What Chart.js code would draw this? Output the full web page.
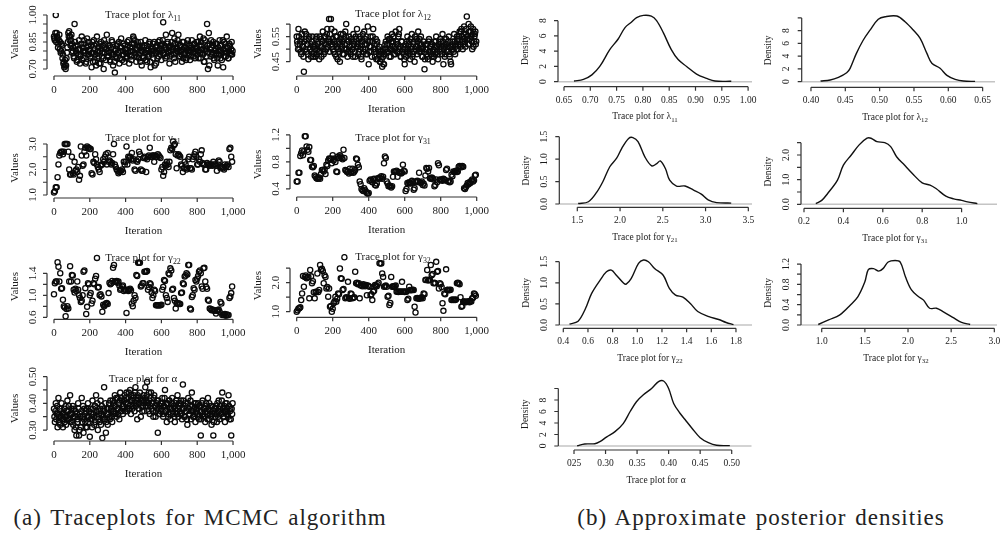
<!DOCTYPE html>
<html>
<head>
<meta charset="utf-8">
<script src="https://cdn.jsdelivr.net/npm/chart.js@4.4.0/dist/chart.umd.min.js"></script>
<style>
html, body { margin: 0; padding: 0; background: #fff; }
#wrap { position: relative; width: 1001px; height: 534px; overflow: hidden; }
#wrap canvas { position: absolute; left: 0; top: 0; }
.cap { position: absolute; font-family: "Liberation Serif", serif; font-size: 23px; letter-spacing: 1px; word-spacing: 2px; color: #222; white-space: nowrap; transform: translateX(-50%); }
</style>
</head>
<body>
<div id="wrap">
  <div class="cap" style="left:200px;top:505px">(a) Traceplots for MCMC algorithm</div>
  <div class="cap" style="left:761px;top:505px">(b) Approximate posterior densities</div>
</div>
<script>
// ---- trace values: series A at iterations 0, 5, ..., 995; series B at 2.5, 7.5, ... ----
const iterStep = 5;

const traceLambda11 = [
  0.88,0.86,1.00,0.90,0.87,0.84,0.89,0.85,0.80,0.83,0.78,0.74,0.72,0.70,0.76,0.82,0.90,0.91,0.88,0.86,
  0.84,0.80,0.77,0.95,0.83,0.79,0.75,0.81,0.86,0.73,0.78,0.88,0.82,0.76,0.84,0.80,0.74,0.87,0.83,0.78,
  0.81,0.76,0.71,0.85,0.79,0.83,0.74,0.72,0.88,0.80,0.77,0.84,0.73,0.81,0.79,0.76,0.86,0.82,0.75,0.89,
  0.80,0.77,0.83,0.74,0.79,0.85,0.72,0.78,0.68,0.81,0.76,0.84,0.79,0.73,0.82,0.87,0.75,0.80,0.78,0.83,
  0.76,0.81,0.85,0.79,0.73,0.82,0.77,0.84,0.80,0.87,0.86,0.78,0.74,0.81,0.83,0.76,0.79,0.85,0.72,0.80,
  0.77,0.83,0.86,0.79,0.74,0.81,0.78,0.84,0.71,0.80,0.82,0.76,0.85,0.79,0.73,0.83,0.80,0.77,0.86,0.81,
  0.75,0.84,0.96,0.79,0.82,0.89,0.77,0.85,0.80,0.73,0.83,0.78,0.90,0.81,0.76,0.84,0.79,0.82,0.86,0.89,
  0.80,0.77,0.83,0.74,0.81,0.85,0.78,0.82,0.76,0.84,0.79,0.83,0.75,0.80,0.86,0.81,0.77,0.84,0.79,0.82,
  0.78,0.85,0.80,0.88,0.76,0.83,0.79,0.87,0.74,0.82,0.81,0.95,0.70,0.90,0.84,0.77,0.82,0.79,0.85,0.75,
  0.81,0.78,0.84,0.72,0.80,0.86,0.76,0.83,0.79,0.71,0.85,0.80,0.77,0.88,0.82,0.76,0.84,0.79,0.81,0.78
];
const traceLambda11B = [
  0.87,0.90,0.85,0.88,0.82,0.86,0.81,0.79,0.84,0.76,0.73,0.71,0.75,0.72,0.79,0.85,0.88,0.86,0.83,0.89,
  0.79,0.82,0.76,0.85,0.80,0.74,0.83,0.78,0.81,0.77,0.84,0.75,0.80,0.86,0.79,0.73,0.82,0.78,0.85,0.80,
  0.77,0.83,0.79,0.74,0.86,0.81,0.78,0.84,0.76,0.82,0.73,0.80,0.85,0.77,0.83,0.70,0.79,0.84,0.81,0.77,
  0.83,0.79,0.75,0.82,0.86,0.78,0.81,0.74,0.80,0.77,0.83,0.79,0.85,0.76,0.80,0.82,0.78,0.84,0.74,0.81,
  0.79,0.77,0.83,0.86,0.78,0.80,0.75,0.82,0.88,0.84,0.79,0.81,0.77,0.85,0.78,0.82,0.74,0.80,0.83,0.76,
  0.82,0.79,0.75,0.83,0.80,0.77,0.85,0.74,0.81,0.78,0.84,0.80,0.72,0.82,0.79,0.76,0.85,0.81,0.78,0.83,
  0.80,0.86,0.78,0.83,0.76,0.81,0.84,0.79,0.82,0.77,0.80,0.85,0.82,0.78,0.87,0.74,0.81,0.80,0.84,0.77,
  0.83,0.80,0.78,0.85,0.76,0.82,0.79,0.75,0.81,0.86,0.78,0.80,0.83,0.77,0.82,0.79,0.84,0.76,0.81,0.85,
  0.80,0.76,0.83,0.79,0.85,0.81,0.78,0.74,0.86,0.80,0.77,0.83,0.79,0.72,0.81,0.86,0.78,0.83,0.76,0.80,
  0.84,0.79,0.76,0.82,0.78,0.83,0.80,0.75,0.86,0.81,0.77,0.84,0.79,0.82,0.76,0.80,0.83,0.78,0.85,0.80
];

const traceLambda12 = [
  0.55,0.52,0.58,0.50,0.53,0.48,0.56,0.51,0.41,0.57,0.54,0.49,0.52,0.46,0.55,0.50,0.47,0.53,0.51,0.48,
  0.52,0.47,0.55,0.50,0.53,0.46,0.49,0.54,0.51,0.57,0.48,0.52,0.55,0.50,0.58,0.53,0.62,0.56,0.62,0.51,
  0.54,0.49,0.57,0.52,0.47,0.55,0.50,0.53,0.45,0.56,0.51,0.48,0.54,0.50,0.57,0.60,0.52,0.49,0.55,0.51,
  0.48,0.53,0.50,0.56,0.52,0.47,0.54,0.58,0.51,0.49,0.55,0.52,0.46,0.53,0.50,0.57,0.54,0.48,0.52,0.59,
  0.44,0.51,0.55,0.49,0.53,0.58,0.50,0.47,0.54,0.52,0.46,0.49,0.51,0.45,0.48,0.43,0.47,0.44,0.50,0.53,
  0.49,0.55,0.52,0.47,0.54,0.50,0.56,0.53,0.48,0.51,0.57,0.52,0.49,0.55,0.58,0.51,0.47,0.53,0.50,0.48,
  0.44,0.52,0.49,0.55,0.50,0.53,0.46,0.51,0.56,0.48,0.53,0.45,0.50,0.54,0.51,0.57,0.49,0.52,0.55,0.50,
  0.47,0.53,0.42,0.50,0.48,0.52,0.46,0.54,0.49,0.51,0.47,0.45,0.50,0.53,0.48,0.55,0.51,0.46,0.52,0.49,
  0.53,0.50,0.56,0.44,0.51,0.48,0.54,0.52,0.49,0.55,0.47,0.45,0.51,0.53,0.50,0.56,0.48,0.52,0.55,0.50,
  0.54,0.57,0.51,0.58,0.55,0.52,0.59,0.53,0.56,0.63,0.54,0.60,0.52,0.57,0.55,0.50,0.58,0.53,0.56,0.52
];
const traceLambda12B = [
  0.53,0.50,0.55,0.52,0.49,0.54,0.51,0.47,0.53,0.50,0.56,0.52,0.48,0.54,0.50,0.52,0.49,0.55,0.47,0.51,
  0.50,0.54,0.48,0.52,0.49,0.55,0.51,0.47,0.53,0.50,0.55,0.49,0.52,0.56,0.51,0.54,0.49,0.53,0.58,0.52,
  0.50,0.53,0.48,0.55,0.51,0.46,0.52,0.49,0.54,0.50,0.53,0.56,0.48,0.52,0.55,0.50,0.47,0.53,0.51,0.49,
  0.54,0.50,0.47,0.53,0.49,0.55,0.51,0.52,0.48,0.54,0.50,0.47,0.53,0.56,0.49,0.52,0.50,0.55,0.48,0.53,
  0.49,0.53,0.51,0.47,0.55,0.50,0.52,0.49,0.46,0.53,0.50,0.48,0.45,0.49,0.46,0.50,0.44,0.48,0.52,0.50,
  0.52,0.49,0.54,0.50,0.47,0.53,0.51,0.55,0.50,0.48,0.53,0.49,0.52,0.56,0.50,0.47,0.53,0.49,0.51,0.46,
  0.50,0.47,0.53,0.49,0.52,0.48,0.54,0.50,0.47,0.52,0.49,0.55,0.51,0.48,0.53,0.50,0.54,0.49,0.52,0.47,
  0.51,0.49,0.46,0.52,0.50,0.47,0.53,0.49,0.51,0.48,0.52,0.49,0.47,0.51,0.53,0.49,0.48,0.52,0.50,0.54,
  0.51,0.48,0.53,0.50,0.47,0.52,0.49,0.51,0.53,0.48,0.51,0.44,0.50,0.52,0.49,0.53,0.51,0.50,0.54,0.52,
  0.55,0.52,0.57,0.53,0.50,0.56,0.54,0.51,0.58,0.55,0.52,0.57,0.54,0.59,0.53,0.56,0.51,0.55,0.57,0.53
];

const traceGamma21 = [
  1.10,1.15,1.30,1.30,1.70,2.20,2.55,2.65,2.70,2.70,2.60,2.70,3.00,3.00,3.00,3.00,2.70,2.00,1.80,1.80,
  2.50,1.85,1.80,2.30,1.95,2.00,1.90,2.10,1.60,1.75,2.90,2.55,2.15,2.20,2.70,2.85,2.55,2.90,2.85,2.85,
  2.80,2.80,1.85,1.80,2.30,2.25,2.60,2.40,2.20,2.10,2.00,1.90,2.15,2.20,2.20,2.40,2.30,2.50,2.60,2.20,
  2.65,2.30,2.35,2.30,2.20,2.25,2.60,3.00,2.20,2.10,2.00,1.95,1.85,1.90,1.95,1.95,2.00,1.90,2.30,2.20,
  2.30,2.90,2.20,2.50,2.45,2.50,2.40,2.65,2.35,2.40,2.00,1.95,2.35,2.30,2.40,2.70,2.60,2.00,1.95,1.95,
  2.45,2.50,2.45,1.90,2.40,2.50,2.55,2.85,2.50,2.50,2.55,2.55,2.30,2.55,2.50,2.50,2.60,2.55,2.50,2.45,
  2.00,2.10,1.75,1.90,2.20,2.15,2.30,2.20,2.10,2.30,2.75,2.85,2.80,3.10,2.95,3.00,2.60,2.05,2.55,2.60,
  2.55,2.50,2.20,2.15,1.90,2.05,2.30,2.20,2.00,2.05,2.40,2.50,2.05,2.05,2.00,2.40,2.50,2.60,2.70,2.50,
  2.20,2.20,2.40,2.30,2.60,2.75,2.25,2.20,2.20,2.00,2.00,2.25,2.20,2.20,2.15,2.20,2.20,2.15,2.30,2.20,
  2.20,2.15,1.95,2.20,2.35,2.30,2.05,2.10,2.10,2.05,2.00,2.20,2.10,2.15,2.20,2.10,2.80,2.85,2.50,2.30
];

const traceGamma31 = [
  0.51,0.51,0.64,0.64,0.89,0.93,0.97,0.90,0.96,1.18,1.18,1.03,0.98,0.95,1.02,0.83,0.83,0.73,0.72,0.74,
  0.60,0.58,0.56,0.55,0.56,0.57,0.55,0.62,0.68,0.68,0.66,0.69,0.62,0.76,0.74,0.82,0.85,0.84,0.85,0.78,
  0.90,0.82,0.85,0.80,0.66,0.65,0.88,0.86,0.90,0.88,0.86,0.84,0.98,0.86,0.68,0.67,0.65,0.66,0.63,0.70,
  0.64,0.65,0.70,0.64,0.66,0.68,0.85,0.84,0.76,0.72,0.51,0.47,0.40,0.38,0.37,0.41,0.38,0.36,0.34,0.33,
  0.34,0.52,0.54,0.53,0.50,0.54,0.55,0.46,0.45,0.48,0.56,0.55,0.57,0.56,0.59,0.55,0.58,0.78,0.88,0.86,
  0.51,0.48,0.44,0.45,0.44,0.42,0.44,0.58,0.66,0.65,0.66,0.67,0.58,0.65,0.64,0.64,0.63,0.64,0.76,0.67,
  0.66,0.37,0.40,0.49,0.48,0.50,0.49,0.48,0.52,0.50,0.39,0.41,0.51,0.50,0.52,0.51,0.64,0.50,0.49,0.51,
  0.46,0.48,0.45,0.60,0.71,0.70,0.66,0.71,0.56,0.55,0.57,0.56,0.54,0.44,0.46,0.54,0.50,0.78,0.75,0.54,
  0.53,0.54,0.52,0.55,0.54,0.53,0.68,0.70,0.51,0.52,0.50,0.51,0.61,0.59,0.66,0.65,0.66,0.67,0.65,0.66,
  0.73,0.74,0.73,0.72,0.74,0.73,0.41,0.40,0.43,0.45,0.49,0.47,0.50,0.49,0.52,0.54,0.51,0.53,0.60,0.61
];

const traceGamma22 = [
  1.02,1.22,1.25,1.25,1.60,1.52,1.25,1.40,1.12,1.13,0.92,0.80,0.78,0.62,0.75,0.80,0.76,1.25,1.53,1.25,
  1.37,1.36,1.10,1.05,1.12,1.08,1.25,1.10,1.00,0.95,0.88,0.90,1.00,1.43,1.45,1.13,0.66,0.79,1.22,1.20,
  1.00,1.04,0.85,0.90,1.22,1.20,1.30,1.35,1.68,1.14,1.15,1.00,1.02,0.98,0.70,0.83,0.80,0.83,0.85,0.86,
  0.84,1.04,1.23,1.20,1.22,1.26,1.50,1.55,1.25,1.24,1.26,1.23,1.25,1.18,1.10,1.12,1.16,1.18,1.08,1.10,
  1.10,0.68,1.10,1.08,1.10,1.12,1.09,0.85,0.80,0.90,1.00,0.95,1.37,1.35,1.59,1.59,1.59,1.16,1.18,1.22,
  1.22,1.43,1.43,1.43,1.44,1.10,1.15,1.22,1.20,1.05,0.95,1.00,1.10,1.08,0.82,0.82,0.82,0.82,0.82,0.82,
  0.83,1.10,1.15,1.28,1.26,1.00,0.95,0.88,1.40,1.38,1.49,1.45,1.10,1.12,0.95,0.90,0.76,0.85,0.86,0.84,
  0.85,0.84,1.04,1.05,1.22,1.20,1.34,1.36,1.40,1.38,1.55,1.55,0.76,0.74,0.97,1.00,1.13,1.10,1.28,1.25,
  1.30,1.35,1.43,1.45,1.40,1.16,1.12,1.49,1.50,1.25,1.15,1.12,0.92,0.90,0.76,0.75,0.73,0.74,0.73,0.72,
  0.73,0.67,0.72,0.73,0.74,0.70,0.88,0.85,0.64,0.65,0.64,0.66,0.63,0.65,0.64,0.64,0.95,0.98,1.04,1.16
];

const traceGamma32 = [
  1.00,1.05,1.11,1.12,1.15,1.40,1.63,2.23,1.86,2.20,2.25,2.15,2.18,2.20,1.46,2.44,2.22,1.98,2.05,1.67,
  1.46,1.67,1.70,2.32,1.68,1.75,2.61,2.45,2.48,2.40,1.98,2.26,2.20,1.80,1.85,1.52,1.80,1.17,1.20,1.00,
  1.10,1.29,1.35,1.52,1.34,1.45,1.63,1.60,2.49,2.15,2.14,1.75,1.78,2.88,1.46,1.50,1.48,2.03,1.46,1.45,
  1.63,1.60,1.46,1.48,1.50,2.38,1.98,2.00,1.95,1.98,1.46,1.90,1.92,1.88,1.95,1.90,1.88,1.92,1.57,1.90,
  1.88,1.86,1.57,1.60,1.40,1.69,1.72,1.92,1.90,1.88,1.95,2.00,2.67,2.67,2.66,2.32,2.20,1.86,1.88,1.90,
  1.86,1.52,1.55,1.23,1.30,2.20,1.86,1.88,1.85,1.87,1.90,1.69,1.70,1.68,1.69,1.70,1.69,2.03,1.70,1.69,
  1.68,1.70,1.69,1.40,1.45,1.86,1.75,1.74,1.75,1.76,1.75,1.17,0.97,1.46,1.47,1.46,1.45,1.47,1.46,1.50,
  1.46,1.63,1.60,2.09,2.10,2.44,2.08,2.10,2.09,2.61,2.26,2.30,1.98,2.00,1.98,2.72,2.38,2.40,1.80,1.98,
  1.95,1.85,1.29,1.03,1.63,1.60,2.46,1.75,1.76,1.74,1.75,1.76,1.40,1.42,1.40,1.41,1.40,1.42,1.98,2.00,
  1.98,1.95,1.50,1.17,1.20,1.34,1.35,1.34,1.33,1.34,1.35,1.34,1.33,1.38,1.35,1.46,1.48,1.63,1.60,1.55
];

const traceAlpha = [
  0.38,0.33,0.40,0.36,0.31,0.42,0.35,0.32,0.37,0.34,0.31,0.36,0.33,0.39,0.35,0.41,0.37,0.34,0.43,0.36,
  0.33,0.39,0.35,0.30,0.37,0.28,0.34,0.40,0.28,0.36,0.31,0.42,0.35,0.29,0.38,0.33,0.37,0.31,0.40,0.35,
  0.275,0.38,0.34,0.41,0.36,0.32,0.39,0.43,0.35,0.30,0.37,0.33,0.41,0.36,0.27,0.38,0.46,0.34,0.29,0.36,
  0.32,0.38,0.35,0.41,0.37,0.33,0.40,0.36,0.43,0.39,0.35,0.42,0.38,0.34,0.44,0.37,0.41,0.36,0.39,0.43,
  0.40,0.44,0.37,0.42,0.38,0.45,0.36,0.41,0.39,0.43,0.37,0.46,0.40,0.34,0.42,0.38,0.44,0.35,0.41,0.39,
  0.43,0.37,0.46,0.41,0.48,0.39,0.44,0.36,0.42,0.38,0.40,0.35,0.43,0.39,0.37,0.41,0.29,0.38,0.36,0.40,
  0.38,0.42,0.35,0.39,0.45,0.37,0.33,0.40,0.36,0.41,0.34,0.38,0.42,0.36,0.39,0.33,0.40,0.37,0.43,0.35,
  0.39,0.36,0.41,0.34,0.47,0.38,0.35,0.40,0.37,0.32,0.42,0.36,0.39,0.34,0.44,0.37,0.35,0.40,0.33,0.38,
  0.36,0.40,0.34,0.39,0.28,0.37,0.41,0.35,0.38,0.33,0.40,0.36,0.42,0.34,0.37,0.39,0.32,0.36,0.28,0.38,
  0.35,0.39,0.33,0.37,0.41,0.34,0.38,0.36,0.44,0.35,0.39,0.33,0.37,0.40,0.36,0.43,0.34,0.38,0.28,0.36
];
const traceAlphaB = [
  0.35,0.37,0.34,0.39,0.36,0.33,0.38,0.35,0.40,0.36,0.34,0.38,0.35,0.32,0.37,0.34,0.39,0.36,0.33,0.38,
  0.36,0.32,0.38,0.35,0.31,0.36,0.33,0.38,0.30,0.35,0.37,0.33,0.39,0.34,0.36,0.31,0.38,0.35,0.33,0.37,
  0.34,0.36,0.31,0.38,0.35,0.39,0.33,0.37,0.40,0.34,0.36,0.38,0.32,0.39,0.35,0.34,0.37,0.40,0.33,0.38,
  0.36,0.40,0.34,0.38,0.35,0.41,0.37,0.39,0.36,0.42,0.38,0.36,0.40,0.41,0.37,0.42,0.39,0.38,0.41,0.37,
  0.42,0.38,0.40,0.44,0.39,0.41,0.43,0.38,0.42,0.40,0.44,0.39,0.41,0.43,0.38,0.40,0.42,0.39,0.37,0.41,
  0.40,0.42,0.39,0.43,0.40,0.37,0.41,0.39,0.44,0.40,0.37,0.42,0.39,0.35,0.40,0.38,0.41,0.36,0.39,0.37,
  0.40,0.36,0.39,0.42,0.37,0.40,0.38,0.35,0.41,0.38,0.36,0.40,0.37,0.39,0.35,0.38,0.41,0.36,0.38,0.40,
  0.37,0.40,0.36,0.38,0.41,0.35,0.39,0.37,0.34,0.40,0.38,0.36,0.41,0.37,0.39,0.35,0.38,0.36,0.40,0.37,
  0.38,0.35,0.39,0.37,0.34,0.40,0.36,0.38,0.35,0.39,0.37,0.34,0.38,0.40,0.36,0.35,0.39,0.37,0.33,0.36,
  0.38,0.36,0.40,0.35,0.37,0.39,0.36,0.41,0.38,0.35,0.37,0.40,0.36,0.38,0.35,0.39,0.37,0.34,0.38,0.40
];

// ---- posterior density curves (x, density) ----
const densLambda11X = [0.669,0.687,0.703,0.718,0.737,0.753,0.766,0.778,0.788,0.801,0.816,0.826,0.839,0.854,0.867,0.883,0.902,0.921,0.937,0.968];
const densLambda11Y = [0.09,0.3,0.9,2.0,4.2,5.6,7.1,7.8,8.4,8.7,8.6,8.0,6.4,4.2,2.9,2.0,1.0,0.44,0.09,0.05];

const densLambda12X = [0.414,0.428,0.440,0.452,0.457,0.466,0.476,0.486,0.498,0.508,0.525,0.537,0.549,0.559,0.569,0.576,0.588,0.598,0.610,0.622,0.639];
const densLambda12Y = [0.1,0.26,0.68,1.4,2.1,4.4,6.5,8.1,9.8,10.2,10.3,9.4,8.1,6.8,4.4,2.9,2.1,1.0,0.37,0.1,0.05];

const densGamma21X = [1.51,1.63,1.73,1.80,1.88,1.96,2.02,2.10,2.15,2.21,2.29,2.37,2.43,2.47,2.53,2.58,2.66,2.76,2.86,2.95,3.03,3.13,3.30];
const densGamma21Y = [0.01,0.05,0.27,0.5,0.83,1.02,1.24,1.46,1.48,1.39,1.05,0.85,0.9,0.96,0.79,0.53,0.4,0.4,0.31,0.22,0.09,0.03,0.02];

const densGamma31X = [0.26,0.29,0.32,0.37,0.40,0.44,0.48,0.52,0.54,0.57,0.61,0.64,0.67,0.71,0.75,0.80,0.84,0.87,0.92,0.96,1.00,1.03,1.08];
const densGamma31Y = [0.03,0.16,0.44,0.98,1.59,2.0,2.41,2.68,2.68,2.54,2.5,2.34,1.93,1.59,1.25,0.87,0.78,0.64,0.33,0.22,0.16,0.1,0.03];

const densGamma22X = [0.45,0.52,0.58,0.63,0.70,0.75,0.79,0.83,0.89,0.91,0.95,1.01,1.05,1.09,1.14,1.21,1.26,1.31,1.37,1.43,1.49,1.58,1.66,1.72,1.78];
const densGamma22Y = [0.02,0.09,0.39,0.75,1.07,1.26,1.3,1.18,0.99,0.97,1.1,1.46,1.54,1.5,1.34,1.18,0.87,0.71,0.66,0.51,0.32,0.2,0.13,0.06,0.01];

const densGamma32X = [0.96,1.08,1.21,1.33,1.42,1.50,1.54,1.60,1.66,1.71,1.77,1.85,1.91,1.97,2.04,2.12,2.18,2.25,2.33,2.41,2.53,2.62,2.72];
const densGamma32Y = [0.01,0.1,0.2,0.39,0.56,0.85,1.09,1.11,1.06,1.11,1.24,1.27,1.24,0.95,0.69,0.56,0.49,0.33,0.33,0.26,0.14,0.05,0.01];

const densAlphaX = [0.255,0.267,0.283,0.291,0.302,0.315,0.328,0.339,0.349,0.360,0.373,0.384,0.392,0.400,0.408,0.418,0.426,0.437,0.450,0.463,0.476,0.497];
const densAlphaY = [0.05,0.35,0.4,0.75,1.6,2.5,3.9,6.0,7.7,8.9,10.0,11.2,11.3,10.0,7.4,5.7,4.6,3.1,1.45,0.58,0.12,0.06];

// ---- tick values and labels ----
const iterTicks = [0, 200, 400, 600, 800, 1000];
const iterLabels = ['0', '200', '400', '600', '800', '1,000'];

const yTicksLambda11 = [0.70, 0.75, 0.80, 0.85, 0.90, 0.95, 1.00];
const yLabelsLambda11 = ['0.70', '', '', '0.85', '', '', '1.00'];
const yTicksLambda12 = [0.45, 0.50, 0.55, 0.60];
const yLabelsLambda12 = ['0.45', '', '0.55', ''];
const yTicksGamma21 = [1.0, 1.5, 2.0, 2.5, 3.0];
const yLabelsGamma21 = ['1.0', '', '2.0', '', '3.0'];
const yTicksGamma31 = [0.4, 0.6, 0.8, 1.0, 1.2];
const yLabelsGamma31 = ['0.4', '', '0.8', '', '1.2'];
const yTicksGamma22 = [0.6, 0.8, 1.0, 1.2, 1.4];
const yLabelsGamma22 = ['0.6', '', '1.0', '', '1.4'];
const yTicksGamma32 = [1.0, 1.5, 2.0, 2.5];
const yLabelsGamma32 = ['1.0', '', '2.0', ''];
const yTicksAlpha = [0.30, 0.35, 0.40, 0.45, 0.50];
const yLabelsAlpha = ['0.30', '', '0.40', '', '0.50'];

const dxTicksLambda11 = [0.65, 0.70, 0.75, 0.80, 0.85, 0.90, 0.95, 1.00];
const dxLabelsLambda11 = ['0.65', '0.70', '0.75', '0.80', '0.85', '0.90', '0.95', '1.00'];
const dyTicksLambda11 = [0, 2, 4, 6, 8];
const dyLabelsLambda11 = ['0', '2', '4', '6', '8'];
const dxTicksLambda12 = [0.40, 0.45, 0.50, 0.55, 0.60, 0.65];
const dxLabelsLambda12 = ['0.40', '0.45', '0.50', '0.55', '0.60', '0.65'];
const dyTicksLambda12 = [0, 2, 4, 6, 8, 10];
const dyLabelsLambda12 = ['0', '2', '4', '6', '8', ''];
const dxTicksGamma21 = [1.5, 2.0, 2.5, 3.0, 3.5];
const dxLabelsGamma21 = ['1.5', '2.0', '2.5', '3.0', '3.5'];
const dyTicksGamma21 = [0, 0.5, 1.0, 1.5];
const dyLabelsGamma21 = ['0.0', '0.5', '1.0', '1.5'];
const dxTicksGamma31 = [0.2, 0.4, 0.6, 0.8, 1.0];
const dxLabelsGamma31 = ['0.2', '0.4', '0.6', '0.8', '1.0'];
const dyTicksGamma31 = [0, 0.5, 1.0, 1.5, 2.0, 2.5];
const dyLabelsGamma31 = ['0.0', '', '1.0', '', '2.0', ''];
const dxTicksGamma22 = [0.4, 0.6, 0.8, 1.0, 1.2, 1.4, 1.6, 1.8];
const dxLabelsGamma22 = ['0.4', '0.6', '0.8', '1.0', '1.2', '1.4', '1.6', '1.8'];
const dyTicksGamma22 = [0, 0.5, 1.0, 1.5];
const dyLabelsGamma22 = ['0.0', '0.5', '1.0', '1.5'];
const dxTicksGamma32 = [1.0, 1.5, 2.0, 2.5, 3.0];
const dxLabelsGamma32 = ['1.0', '1.5', '2.0', '2.5', '3.0'];
const dyTicksGamma32 = [0, 0.2, 0.4, 0.6, 0.8, 1.0, 1.2];
const dyLabelsGamma32 = ['0.0', '', '0.4', '', '0.8', '', '1.2'];
const dxTicksAlpha = [0.25, 0.30, 0.35, 0.40, 0.45, 0.50];
const dxLabelsAlpha = ['025', '0.30', '0.35', '0.40', '0.45', '0.50'];
const dyTicksAlpha = [0, 2, 4, 6, 8, 10];
const dyLabelsAlpha = ['0', '2', '4', '6', '8', ''];

// ---- layout ----
const W = 1001, H = 534;
const FONT = '"Liberation Serif", "Times New Roman", serif';
const wrap = document.getElementById('wrap');

// draws "Trace plot for <sym><sub>" centred at (cx, cy)
function drawTitle(ctx, sym, sub, cx, cy, size) {
    const parts = [['Trace plot for ', size, 0], [sym, size, 0], [sub, size * 0.72, size * 0.32]];
    let total = 0;
    const widths = parts.map(p => {
        ctx.font = p[1] + 'px ' + FONT;
        const w = ctx.measureText(p[0]).width;
        total += w;
        return w;
    });
    let x = cx - total / 2;
    ctx.textAlign = 'left';
    ctx.textBaseline = 'middle';
    parts.forEach((p, i) => {
        ctx.font = p[1] + 'px ' + FONT;
        ctx.fillText(p[0], x, cy + p[2]);
        x += widths[i];
    });
}

// R-style detached axes, drawn from the chart's own scales
const rAxes = {
    id: 'rAxes',
    afterDraw(chart) {
        const o = chart.options.plugins.rAxes;
        const ctx = chart.ctx;
        const xs = chart.scales.x, ys = chart.scales.y;
        const area = chart.chartArea;
        ctx.save();
        ctx.strokeStyle = '#333';
        ctx.fillStyle = '#1a1a1a';
        ctx.lineWidth = 1.2;

        // x axis
        const xp = o.xTicks.map(v => xs.getPixelForValue(v));
        ctx.beginPath();
        ctx.moveTo(xp[0], area.bottom);
        ctx.lineTo(xp[xp.length - 1], area.bottom);
        xp.forEach(p => { ctx.moveTo(p, area.bottom); ctx.lineTo(p, area.bottom + 4); });
        ctx.stroke();
        ctx.font = o.fontSize + 'px ' + FONT;
        ctx.textAlign = 'center';
        ctx.textBaseline = 'middle';
        xp.forEach((p, i) => ctx.fillText(o.xLabels[i], p, area.bottom + o.xLabelGap));

        // y axis
        const yp = o.yTicks.map(v => ys.getPixelForValue(v));
        ctx.beginPath();
        ctx.moveTo(area.left, yp[0]);
        ctx.lineTo(area.left, yp[yp.length - 1]);
        yp.forEach(p => { ctx.moveTo(area.left, p); ctx.lineTo(area.left - 4, p); });
        ctx.stroke();
        yp.forEach((p, i) => {
            if (!o.yLabels[i]) return;
            ctx.save();
            ctx.translate(area.left - o.yLabelGap, p);
            ctx.rotate(-Math.PI / 2);
            ctx.fillText(o.yLabels[i], 0, 0);
            ctx.restore();
        });

        // axis titles
        const midY = (area.top + area.bottom) / 2;
        ctx.save();
        ctx.translate(area.left - o.yTitleGap, midY);
        ctx.rotate(-Math.PI / 2);
        ctx.fillText(o.yTitle, 0, 0);
        ctx.restore();

        if (o.xTitle) {
            ctx.fillText(o.xTitle, o.xTitleX, area.bottom + o.xTitleGap);
        } else {
            drawTitle(ctx, o.sym, o.sub, o.titleX, area.bottom + o.xTitleGap, o.fontSize);
        }
        if (o.topTitle) {
            drawTitle(ctx, o.sym, o.sub, o.titleX, o.titleY, o.fontSize);
        }
        ctx.restore();
    }
};

function makeCanvas() {
    const c = document.createElement('canvas');
    c.width = W;
    c.height = H;
    wrap.appendChild(c);
    return c.getContext('2d');
}

function baseOptions(box, xr, yr, axes) {
    return {
        responsive: false,
        animation: false,
        devicePixelRatio: 1,
        events: [],
        layout: { padding: { left: box[0], top: box[1], right: W - box[2], bottom: H - box[3] } },
        scales: {
            x: { type: 'linear', min: xr[0], max: xr[1], display: false },
            y: { type: 'linear', min: yr[0], max: yr[1], display: false }
        },
        plugins: { legend: { display: false }, tooltip: { enabled: false }, rAxes: axes }
    };
}

function traceDataset(values, offset) {
    return {
        data: values.map((v, i) => ({ x: i * iterStep + offset, y: v })),
        pointStyle: 'circle',
        pointRadius: 2.6,
        pointBorderWidth: 1.3,
        pointBorderColor: '#0a0a0a',
        pointBackgroundColor: 'rgba(0,0,0,0)'
    };
}

function tracePanel(values, valuesB, yTicks, yLabels, sym, sub, box, xr, yr, titleX, titleY) {
    const datasets = [traceDataset(values, 0)];
    if (valuesB) datasets.push(traceDataset(valuesB, iterStep / 2));
    new Chart(makeCanvas(), {
        type: 'scatter',
        data: { datasets: datasets },
        options: baseOptions(box, xr, yr, {
            xTicks: iterTicks, xLabels: iterLabels, yTicks: yTicks, yLabels: yLabels,
            fontSize: 11, xLabelGap: 14, yLabelGap: 14, yTitleGap: 32, xTitleGap: 33,
            xTitle: 'Iteration', xTitleX: (box[0] + box[2]) / 2, yTitle: 'Values',
            topTitle: true, sym: sym, sub: sub, titleX: titleX, titleY: titleY
        }),
        plugins: [rAxes]
    });
}

function densityPanel(xv, yv, xTicks, xLabels, yTicks, yLabels, sym, sub, box, xr, yr, titleX) {
    const curve = xv.map((x, i) => ({ x: x, y: yv[i] }));
    new Chart(makeCanvas(), {
        type: 'line',
        data: {
            datasets: [
                { data: curve, borderColor: '#111', borderWidth: 1.4, pointRadius: 0, tension: 0.35, order: 1 },
                { data: [{ x: xr[0], y: 0 }, { x: xr[1], y: 0 }], borderColor: '#c4c4c4', borderWidth: 1.6, pointRadius: 0, order: 2 }
            ]
        },
        options: baseOptions(box, xr, yr, {
            xTicks: xTicks, xLabels: xLabels, yTicks: yTicks, yLabels: yLabels,
            fontSize: 9.5, xLabelGap: 13.5, yLabelGap: 15, yTitleGap: 33, xTitleGap: 30,
            xTitle: null, yTitle: 'Density', topTitle: false, sym: sym, sub: sub, titleX: titleX
        }),
        plugins: [rAxes]
    });
}

// traceplots (a)
tracePanel(traceLambda11, traceLambda11B, yTicksLambda11, yLabelsLambda11, 'λ', '11', [47, 13, 240, 76], [-39, 1039], [0.661, 1.011], 143, 15);
tracePanel(traceLambda12, traceLambda12B, yTicksLambda12, yLabelsLambda12, 'λ', '12', [290, 12, 483.4, 76], [-37.2, 1037.2], [0.393, 0.648], 393, 14);
tracePanel(traceGamma21, null, yTicksGamma21, yLabelsGamma21, 'γ', '21', [47, 138, 240, 198], [-39, 1039], [0.882, 3.235], 143, 138);
tracePanel(traceGamma31, null, yTicksGamma31, yLabelsGamma31, 'γ', '31', [290, 132, 483.4, 197], [-37.2, 1037.2], [0.281, 1.244], 393, 138);
tracePanel(traceGamma22, null, yTicksGamma22, yLabelsGamma22, 'γ', '22', [47, 254, 240, 319.3], [-39, 1039], [0.564, 1.751], 143, 258);
tracePanel(traceGamma32, null, yTicksGamma32, yLabelsGamma32, 'γ', '32', [290, 254, 483.4, 317.3], [-37.2, 1037.2], [0.807, 2.99], 393, 257);
tracePanel(traceAlpha, traceAlphaB, yTicksAlpha, yLabelsAlpha, 'α', '', [47, 376, 240, 441], [-39, 1039], [0.259, 0.502], 143, 379);

// posterior densities (b)
densityPanel(densLambda11X, densLambda11Y, dxTicksLambda11, dxLabelsLambda11, dyTicksLambda11, dyLabelsLambda11, 'λ', '11',
    [558, 13.5, 752, 86.7], [0.6386, 1.0074], [-0.656, 8.944], 645);
densityPanel(densLambda12X, densLambda12Y, dxTicksLambda12, dxLabelsLambda12, dyTicksLambda12, dyLabelsLambda12, 'λ', '12',
    [801.7, 13.5, 995, 87.3], [0.3865, 0.668], [-0.878, 10.7], 895);
densityPanel(densGamma21X, densGamma21Y, dxTicksGamma21, dxLabelsGamma21, dyTicksGamma21, dyLabelsGamma21, 'γ', '21',
    [559.3, 134, 752, 207.3], [1.2895, 3.543], [-0.0735, 1.559], 645);
densityPanel(densGamma31X, densGamma31Y, dxTicksGamma31, dxLabelsGamma31, dyTicksGamma31, dyLabelsGamma31, 'γ', '31',
    [801, 135, 997, 208.3], [0.1848, 1.1797], [-0.162, 2.811], 895);
densityPanel(densGamma22X, densGamma22Y, dxTicksGamma22, dxLabelsGamma22, dyTicksGamma22, dyLabelsGamma22, 'γ', '22',
    [559.3, 257.5, 752, 328.3], [0.3676, 1.93], [-0.078, 1.6], 650);
densityPanel(densGamma32X, densGamma32Y, dxTicksGamma32, dxLabelsGamma32, dyTicksGamma32, dyLabelsGamma32, 'γ', '32',
    [801, 257.5, 997, 328.3], [0.76, 3.031], [-0.065, 1.329], 896);
densityPanel(densAlphaX, densAlphaY, dxTicksAlpha, dxLabelsAlpha, dyTicksAlpha, dyLabelsAlpha, 'α', '',
    [558.3, 378.4, 751.7, 450], [0.2251, 0.5317], [-0.696, 11.76], 656);
</script>
</body>
</html>
